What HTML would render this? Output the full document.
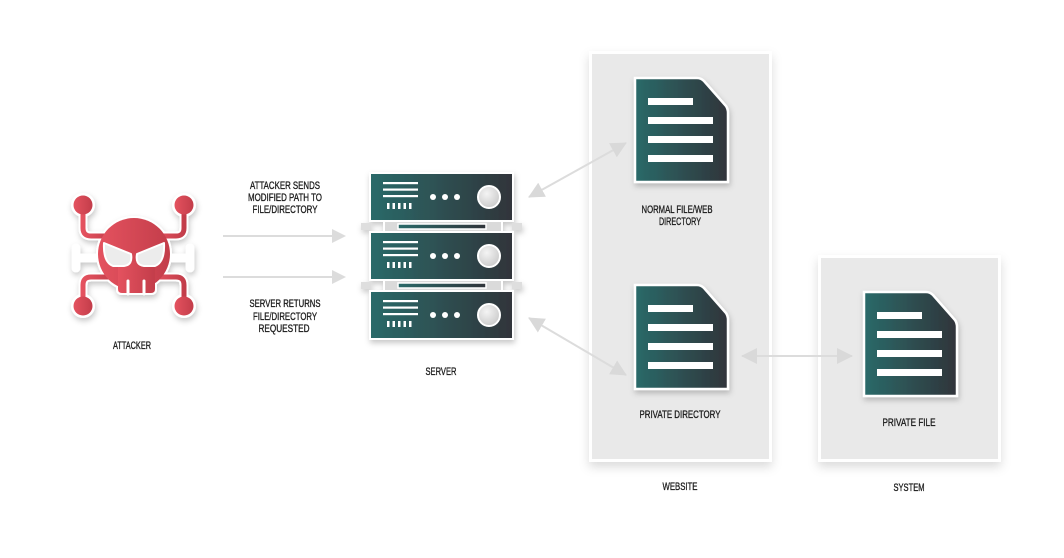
<!DOCTYPE html>
<html><head><meta charset="utf-8"><style>
html,body{margin:0;padding:0;background:#fff;}
svg{display:block;}
text{font-family:"Liberation Sans Narrow","Liberation Sans",sans-serif;font-size:11px;fill:#1e1e1e;stroke:#1e1e1e;stroke-width:0.35px;}
</style></head><body>
<svg width="1064" height="558" viewBox="0 0 1064 558" xmlns="http://www.w3.org/2000/svg">
<defs>
  <linearGradient id="teal" x1="0" y1="0" x2="1" y2="0">
    <stop offset="0" stop-color="#2b6a69"/>
    <stop offset="1" stop-color="#30343a"/>
  </linearGradient>
  <linearGradient id="red" x1="0" y1="0" x2="1" y2="0">
    <stop offset="0" stop-color="#e4525f"/>
    <stop offset="1" stop-color="#c33d4a"/>
  </linearGradient>
  <radialGradient id="knob" cx="0.4" cy="0.35" r="0.7">
    <stop offset="0" stop-color="#f4f4f4"/>
    <stop offset="1" stop-color="#c9c9c9"/>
  </radialGradient>
  <filter id="sh" x="-20%" y="-20%" width="140%" height="150%">
    <feDropShadow dx="1" dy="3" stdDeviation="3" flood-color="#000" flood-opacity="0.22"/>
  </filter>
  <filter id="shp" x="-10%" y="-10%" width="125%" height="125%">
    <feDropShadow dx="0" dy="5" stdDeviation="5" flood-color="#000" flood-opacity="0.14"/>
  </filter>
  <marker id="ah" viewBox="0 0 16 16" refX="15" refY="8" markerWidth="16" markerHeight="16" markerUnits="userSpaceOnUse" orient="auto-start-reverse">
    <path d="M0,0 L16,8 L0,16 Z" fill="#d9d9d9"/>
  </marker>
</defs>

<!-- Panels -->
<g filter="url(#shp)">
  <rect x="589" y="51" width="183" height="411" fill="#ffffff"/>
  <rect x="818" y="255" width="183" height="207" fill="#ffffff"/>
</g>
<rect x="592" y="54" width="177" height="405" fill="#e9e9e9"/>
<rect x="821" y="258" width="177" height="201" fill="#e9e9e9"/>

<!-- Arrows -->
<g stroke="#dcdcdc" stroke-width="2" fill="none">
  <line x1="223" y1="236" x2="334" y2="236"/>
  <line x1="223" y1="277" x2="334" y2="277"/>
  <line x1="529" y1="197" x2="626" y2="143" marker-start="url(#ah)" marker-end="url(#ah)"/>
  <line x1="529" y1="318" x2="626" y2="375" marker-start="url(#ah)" marker-end="url(#ah)"/>
  <line x1="742" y1="356" x2="852" y2="356" marker-start="url(#ah)" marker-end="url(#ah)"/>
</g>
<path d="M332,229 L346,236 L332,243 Z" fill="#dcdcdc"/>
<path d="M332,270 L346,277 L332,284 Z" fill="#dcdcdc"/>

<!-- Attacker icon -->
<g filter="url(#sh)">
  <g stroke="#fff" stroke-width="9" fill="none" stroke-linecap="round" stroke-linejoin="round">
    <path d="M83,205 V228 Q83,236 91,236 H110"/>
    <path d="M184,205 V228 Q184,236 176,236 H158"/>
    <path d="M76,258 H110"/>
    <path d="M76,248 V268"/>
    <path d="M190,258 H158"/>
    <path d="M190,248 V268"/>
    <path d="M83,306 V285 Q83,277 91,277 H112"/>
    <path d="M184,306 V285 Q184,277 176,277 H156"/>
  </g>
  <circle cx="83" cy="205" r="12" fill="#fff"/>
  <circle cx="184" cy="205" r="12" fill="#fff"/>
  <circle cx="83" cy="306" r="12" fill="#fff"/>
  <circle cx="184" cy="306" r="12" fill="#fff"/>
  <circle cx="134" cy="254" r="38" fill="#fff"/>
  <rect x="116" y="262" width="41" height="33" rx="5" fill="#fff"/>
</g>
<g stroke="url(#red)" stroke-width="5" fill="none" stroke-linecap="butt" stroke-linejoin="round">
  <path d="M83,205 V228 Q83,236 91,236 H112"/>
  <path d="M184,205 V228 Q184,236 176,236 H156"/>
  <path d="M76,258 H110"/>
  <path d="M76,248 V268"/>
  <path d="M190,258 H158"/>
  <path d="M190,248 V268"/>
  <path d="M83,306 V285 Q83,277 91,277 H114"/>
  <path d="M184,306 V285 Q184,277 176,277 H154"/>
</g>
<g fill="url(#red)">
  <circle cx="83" cy="205" r="9.5"/>
  <circle cx="184" cy="205" r="9.5"/>
  <circle cx="83" cy="306" r="9.5"/>
  <circle cx="184" cy="306" r="9.5"/>
  <circle cx="134" cy="254" r="36"/>
  <path d="M118,262 H155 V289 Q155,293 151,293 H122 Q118,293 118,289 Z"/>
</g>
<g stroke="#fff" stroke-width="3" stroke-linecap="round">
  <line x1="128" y1="281" x2="128" y2="294"/>
  <line x1="144" y1="281" x2="144" y2="294"/>
</g>
<g fill="#ececec" stroke="#fff" stroke-width="2" stroke-linejoin="round">
  <path d="M104,243 L131,254 Q133,265 124,266 L113,266 Q103,262 104,243 Z"/>
  <path d="M164,243 L137,254 Q135,265 144,266 L155,266 Q165,262 164,243 Z"/>
</g>

<!-- Server -->
<g filter="url(#sh)">
  <rect x="361" y="223" width="10" height="7" fill="#dedede"/>
  <rect x="512" y="223" width="10" height="7" fill="#dedede"/>
  <rect x="361" y="282" width="10" height="7" fill="#dedede"/>
  <rect x="512" y="282" width="10" height="7" fill="#dedede"/>
  <rect x="384" y="220" width="118" height="13" fill="#dadada" stroke="#fff" stroke-width="2"/>
  <rect x="384" y="279" width="118" height="13" fill="#dadada" stroke="#fff" stroke-width="2"/>
  <rect x="370" y="173" width="143" height="48" fill="url(#teal)" stroke="#fff" stroke-width="2"/>
  <rect x="370" y="232" width="143" height="48" fill="url(#teal)" stroke="#fff" stroke-width="2"/>
  <rect x="370" y="291" width="143" height="48" fill="url(#teal)" stroke="#fff" stroke-width="2"/>
</g>
<rect x="398" y="224" width="88" height="5" fill="url(#teal)" stroke="#fff" stroke-width="1.5"/>
<rect x="398" y="283" width="88" height="5" fill="url(#teal)" stroke="#fff" stroke-width="1.5"/>
<g id="unit1">
  <g fill="#fff">
    <rect x="383" y="182" width="35" height="2.2"/>
    <rect x="383" y="188.5" width="35" height="2.2"/>
    <rect x="383" y="195" width="35" height="2.2"/>
    <rect x="387" y="203" width="2.5" height="6"/>
    <rect x="392.5" y="203" width="2.5" height="6"/>
    <rect x="398" y="203" width="2.5" height="6"/>
    <rect x="403.5" y="203" width="2.5" height="6"/>
    <rect x="409" y="203" width="2.5" height="6"/>
    <circle cx="433" cy="197" r="3"/>
    <circle cx="445" cy="197" r="3"/>
    <circle cx="457" cy="197" r="3"/>
  </g>
  <circle cx="489" cy="197" r="11" fill="url(#knob)" stroke="#fff" stroke-width="2"/>
</g>
<use href="#unit1" y="59"/>
<use href="#unit1" y="118"/>

<!-- Documents -->
<g id="doc">
  <path d="M635,78 H697 Q701,78 704,81 L726,106 Q728,109 728,113 V182 H635 Z" fill="url(#teal)" stroke="#fff" stroke-width="2.5" filter="url(#sh)"/>
  <g fill="#fff">
    <rect x="648" y="98" width="45" height="7"/>
    <rect x="648" y="117" width="65" height="7"/>
    <rect x="648" y="136" width="65" height="7"/>
    <rect x="648" y="155" width="65" height="7"/>
  </g>
</g>
<use href="#doc" y="207"/>
<use href="#doc" x="229" y="214"/>

<!-- Labels -->
<g text-anchor="middle">
  <text x="285" y="189" textLength="70" lengthAdjust="spacingAndGlyphs">ATTACKER SENDS</text>
  <text x="285" y="201" textLength="74" lengthAdjust="spacingAndGlyphs">MODIFIED PATH TO</text>
  <text x="285" y="213" textLength="65" lengthAdjust="spacingAndGlyphs">FILE/DIRECTORY</text>
  <text x="285" y="307" textLength="71" lengthAdjust="spacingAndGlyphs">SERVER RETURNS</text>
  <text x="285" y="320" textLength="64" lengthAdjust="spacingAndGlyphs">FILE/DIRECTORY</text>
  <text x="284" y="332" textLength="51" lengthAdjust="spacingAndGlyphs">REQUESTED</text>
  <text x="132" y="349" textLength="38" lengthAdjust="spacingAndGlyphs">ATTACKER</text>
  <text x="441" y="375" textLength="31" lengthAdjust="spacingAndGlyphs">SERVER</text>
  <text x="677" y="213" textLength="71" lengthAdjust="spacingAndGlyphs">NORMAL FILE/WEB</text>
  <text x="680" y="225" textLength="42" lengthAdjust="spacingAndGlyphs">DIRECTORY</text>
  <text x="680" y="418" textLength="81" lengthAdjust="spacingAndGlyphs">PRIVATE DIRECTORY</text>
  <text x="680" y="490" textLength="35" lengthAdjust="spacingAndGlyphs">WEBSITE</text>
  <text x="909" y="426" textLength="53" lengthAdjust="spacingAndGlyphs">PRIVATE FILE</text>
  <text x="909" y="491" textLength="31" lengthAdjust="spacingAndGlyphs">SYSTEM</text>
</g>
</svg>
</body></html>
